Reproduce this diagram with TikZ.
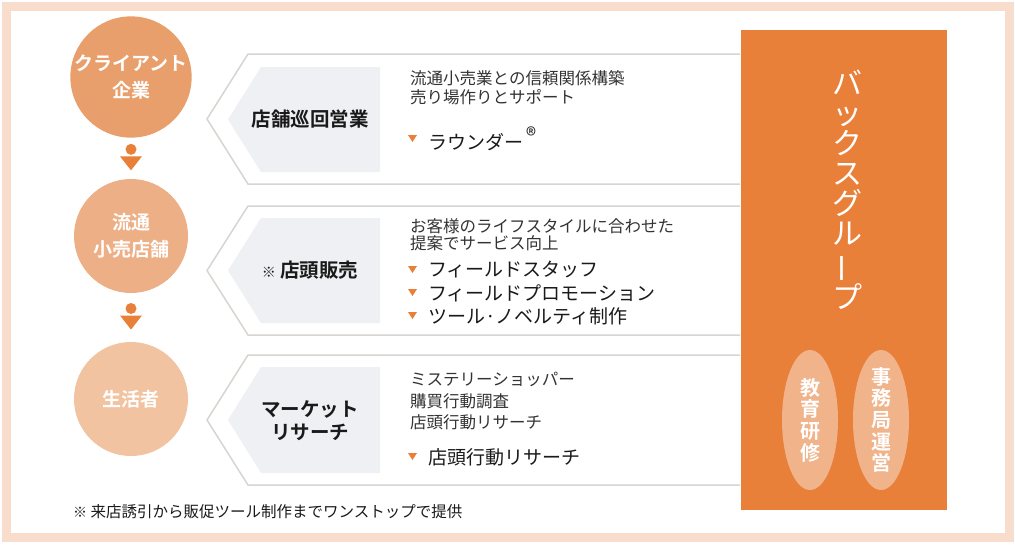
\documentclass[tikz,border=0pt]{standalone}
\usepackage{fontspec}
\usepackage{graphicx}
\setmainfont{Noto Sans CJK JP}[BoldFont={Noto Sans CJK JP Bold}]
\usetikzlibrary{calc,shapes.geometric}

\definecolor{framepeach}{HTML}{F8DDCC}
\definecolor{baxorange}{HTML}{E8803A}
\definecolor{clientfill}{HTML}{E99F6B}
\definecolor{retailfill}{HTML}{EDB086}
\definecolor{consumerfill}{HTML}{F2C3A1}
\definecolor{ovalfill}{HTML}{F0B38A}
\definecolor{tabgray}{HTML}{EFF0F4}
\definecolor{rowline}{HTML}{D8D5D1}
\definecolor{desctext}{HTML}{333333}
\definecolor{darktext}{HTML}{1A1A1A}

\begin{document}
\begin{tikzpicture}[x=1pt,y=-1pt,
    party/.style={circle, minimum size=114pt, inner sep=0pt, text=white, align=center,
      font=\bfseries\fontsize{19}{27}\selectfont},
    rowbox/.style={draw=rowline, line width=1.5pt, fill=white},
    tabbox/.style={fill=tabgray},
    tablabel/.style={text=darktext, align=center, font=\bfseries\fontsize{19.5}{23}\selectfont},
    desc/.style={anchor=west, inner sep=0pt, text=desctext, align=left},
    item/.style={anchor=west, inner sep=0pt, text=darktext, font=\fontsize{19}{23}\selectfont},
    oval/.style={ellipse, fill=ovalfill, minimum width=56pt, minimum height=140pt, inner sep=0pt}]
  \useasboundingbox (0,0) rectangle (1015,547);
  % frame
  \fill[white] (0,0) rectangle (1015,547);
  \draw[framepeach, line width=9pt] (6.5,6.5) rectangle (1009.5,537.5);

  % row shapes
  \draw[rowbox] (740,54) -- (248,54) -- (207,119) -- (248,184) -- (740,184);
  \draw[rowbox] (740,206) -- (248,206) -- (207,270.5) -- (248,335) -- (740,335);
  \draw[rowbox] (740,355) -- (248,355) -- (207,420) -- (248,485) -- (740,485);
  \fill[tabbox] (380,67) -- (261,67) -- (228,119.5) -- (261,172) -- (380,172) -- cycle;
  \fill[tabbox] (380,218) -- (261,218) -- (228,270.5) -- (261,323) -- (380,323) -- cycle;
  \fill[tabbox] (380,367) -- (261,367) -- (228,420) -- (261,473) -- (380,473) -- cycle;

  \node[tablabel] (visit) at (310,119) {店舗巡回営業};
  \node[tablabel] (instore) at (310,270) {{\mdseries\fontsize{14}{14}\selectfont ※}\ 店頭販売};
  \node[tablabel] (research) at (310,421) {マーケット\\リサーチ};

  % parties on the left
  \node[party, fill=clientfill] (client) at (131,77) {クライアント\\企業};
  \node[party, fill=retailfill] (retail) at (131,236) {流通\\小売店舗};
  \node[party, fill=consumerfill] (consumer) at (131,399) {生活者};
  \foreach \a/\b in {client/retail, retail/consumer} {
    \coordinate (m) at ($(\a.south)!0.5!(\b.north)$);
    \fill[baxorange] ($(m)+(0,-9)$) circle (5.5pt);
    \fill[baxorange] ($(m)+(-11,-2)$) -- ($(m)+(11,-2)$) -- ($(m)+(0,12)$) -- cycle;
  }

  % descriptions
  \node[desc, font=\fontsize{16.5}{19}\selectfont] (visitdesc) at (410,87.5)
    {流通小売業との信頼関係構築\\売り場作りとサポート};
  \node[item] (rounder) at (428,139) {ラウンダー\,\raisebox{0.6ex}{\fontsize{21}{21}\selectfont ®}};
  \node[desc, font=\fontsize{16.5}{17}\selectfont] (instoredesc) at (410,235)
    {お客様のライフスタイルに合わせた\\提案でサービス向上};
  \node[item] (staff) at (428,270) {フィールドスタッフ};
  \node[item] (promo) at (428,293) {フィールドプロモーション};
  \node[item] (tools) at (428,316) {ツール·ノベルティ制作};
  \node[desc, font=\fontsize{16.5}{21.5}\selectfont] (researchdesc) at (410,401.5)
    {ミステリーショッパー\\購買行動調査\\店頭行動リサーチ};
  \node[item] (shelf) at (428,457) {店頭行動リサーチ};
  \foreach \y in {139,270,293,316,457}
    \fill[baxorange] (408,\y-4) -- (417,\y-4) -- (412.5,\y+3) -- cycle;

  % group panel
  \node[fill=baxorange, minimum width=206pt, minimum height=480pt, inner sep=0pt] (panel) at (844,270) {};
  \node[text=white, align=center, inner sep=0pt, font=\fontsize{30}{30}\selectfont] (bax) at (847,190)
    {バ\\ッ\\ク\\ス\\グ\\ル\\\rotatebox[origin=c]{90}{ー}\\プ};
  \node[oval] (edu) at (810,420) {};
  \node[oval] (office) at (881,420) {};
  \node[text=white, align=center, inner sep=0pt, font=\bfseries\fontsize{20}{21.7}\selectfont] at (edu) {教\\育\\研\\修};
  \node[text=white, align=center, inner sep=0pt, font=\bfseries\fontsize{20}{21.7}\selectfont] at (office) {事\\務\\局\\運\\営};

  % footnote
  \node[desc, text=darktext, font=\fontsize{15.5}{16}\selectfont] (note) at (73,512)
    {{\fontsize{14}{14}\selectfont ※}\ 来店誘引から販促ツール制作までワンストップで提供};
\end{tikzpicture}
\end{document}
